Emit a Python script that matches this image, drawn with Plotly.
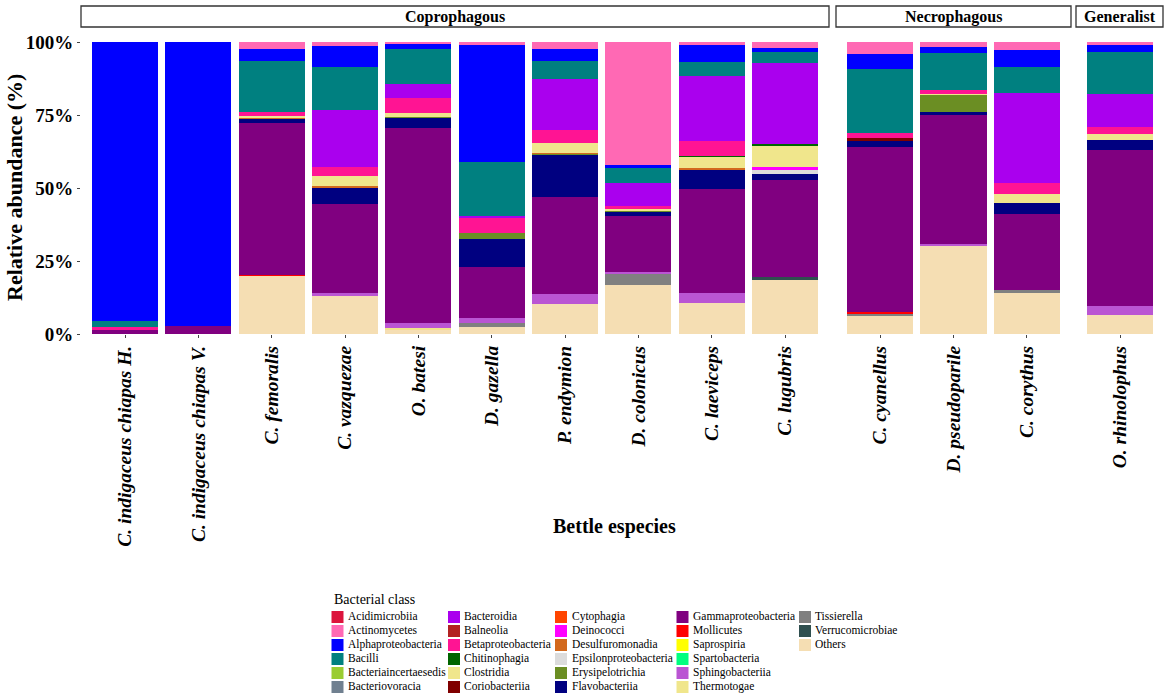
import plotly.graph_objects as go

# ---------------- data ----------------
species = ["C. indigaceus chiapas H.", "C. indigaceus chiapas V.", "C. femoralis", "C. vazquezae",
           "O. batesi", "D. gazella", "P. endymion", "D. colonicus", "C. laeviceps", "C. lugubris",
           "C. cyanellus", "D. pseudoparile", "C. corythus", "O. rhinolophus"]
feeding_group = ["Coprophagous", "Coprophagous", "Coprophagous", "Coprophagous", "Coprophagous",
                 "Coprophagous", "Coprophagous", "Coprophagous", "Coprophagous", "Coprophagous",
                 "Necrophagous", "Necrophagous", "Necrophagous", "Generalist"]
groups = ["Coprophagous", "Necrophagous", "Generalist"]

classes = ["Acidimicrobiia", "Actinomycetes", "Alphaproteobacteria", "Bacilli", "Bacteriaincertaesedis",
           "Bacteriovoracia", "Bacteroidia", "Balneolia", "Betaproteobacteria", "Chitinophagia",
           "Clostridia", "Coriobacteriia", "Cytophagia", "Deinococci", "Desulfuromonadia",
           "Epsilonproteobacteria", "Erysipelotrichia", "Flavobacteriia", "Gammaproteobacteria",
           "Mollicutes", "Saprospiria", "Spartobacteria", "Sphingobacteriia", "Thermotogae",
           "Tissierella", "Verrucomicrobiae", "Others"]
class_colors = ["#DC143C", "#FF69B4", "#0000FF", "#008080", "#9ACD32",
                "#708090", "#AA00EE", "#B22222", "#FF1493", "#006400",
                "#F0E68C", "#800000", "#FF4500", "#FF00FF", "#D2691E",
                "#DCDCDC", "#6B8E23", "#000080", "#800080",
                "#FF0000", "#FFFF00", "#00FF7F", "#BA55D3", "#F0E68C",
                "#808080", "#2F4F4F", "#F5DEB3"]

# relative abundance (%) per class, in species order
acidimicrobiia        = [0, 0, 0, 0, 0, 0, 0, 0, 0, 0, 0, 0, 0, 0]
actinomycetes         = [0, 0, 2.5, 1.4, 0.7, 1.1, 2.5, 42.1, 1.0, 2.2, 4.1, 1.6, 2.7, 1.0]
alphaproteobacteria   = [95.5, 97.3, 3.9, 7.3, 1.7, 39.9, 3.9, 1.2, 6.0, 1.1, 5.1, 2.3, 5.8, 2.3]
bacilli               = [2.0, 0, 17.4, 14.6, 12.0, 18.5, 6.2, 5.1, 4.5, 4.0, 21.9, 12.6, 8.9, 14.5]
bacteriaincertaesedis = [0, 0, 0, 0, 0, 0, 0, 0, 0, 0, 0, 0, 0, 0]
bacteriovoracia       = [0, 0, 0, 0, 0, 0, 0, 0, 0, 0, 0, 0, 0, 0]
bacteroidia           = [0, 0, 0, 19.5, 4.8, 0.9, 17.5, 7.7, 22.5, 27.6, 0, 0, 31.0, 11.3]
balneolia             = [0, 0, 0, 0, 0, 0, 0, 0, 0, 0, 0, 0, 0, 0]
betaproteobacteria    = [1.0, 0, 1.6, 3.0, 5.0, 5.1, 4.6, 1.0, 5.0, 0, 1.9, 1.2, 3.5, 2.3]
chitinophagia         = [0, 0, 0, 0, 0, 0, 0, 0, 0.3, 0.4, 0, 0, 0, 0]
clostridia            = [0, 0, 0.5, 3.5, 1.5, 0, 3.2, 0.7, 3.8, 7.4, 0, 0.3, 3.2, 2.2]
coriobacteriia        = [0, 0, 0, 0, 0, 0, 0, 0, 0, 0, 0.6, 0, 0, 0]
cytophagia            = [0, 0, 0, 0, 0, 0, 0, 0, 0, 0, 0, 0, 0, 0]
deinococci            = [0, 0, 0, 0, 0, 0, 0, 0, 0, 1.1, 0, 0, 0, 0]
desulfuromonadia      = [0, 0, 0.3, 0.8, 0, 0, 0.4, 0, 0.7, 0, 0, 0, 0, 0]
epsilonproteobacteria = [0, 0, 0, 0, 0, 0, 0, 0, 0, 1.4, 0, 0, 0, 0]
erysipelotrichia      = [0, 0, 0, 0, 0.3, 1.9, 0.4, 0.3, 0, 0, 0, 6.1, 0, 0]
flavobacteriia        = [0, 0, 1.6, 5.5, 3.4, 9.8, 14.5, 1.5, 6.7, 2.1, 2.3, 1.0, 3.7, 3.5]
gammaproteobacteria   = [1.5, 2.7, 51.9, 30.5, 67.0, 17.4, 33.0, 19.0, 35.6, 33.3, 56.7, 44.0, 26.3, 53.2]
mollicutes            = [0, 0, 0.3, 0, 0, 0, 0, 0, 0, 0, 0.5, 0, 0, 0]
saprospiria           = [0, 0, 0, 0, 0, 0, 0, 0, 0, 0, 0, 0, 0, 0]
spartobacteria        = [0, 0, 0, 0, 0, 0, 0, 0, 0, 0, 0, 0, 0, 0]
sphingobacteriia      = [0, 0, 0, 1.0, 1.5, 1.5, 3.5, 0.6, 3.2, 0, 0, 0.6, 0, 3.1]
thermotogae           = [0, 0, 0, 0, 0.5, 0, 0, 0, 0, 0, 0, 0, 0, 0]
tissierella           = [0, 0, 0, 0, 0, 1.4, 0, 4.0, 0, 0, 0.6, 0, 0.8, 0]
verrucomicrobiae      = [0, 0, 0, 0, 0, 0, 0, 0, 0, 0.9, 0, 0, 0, 0]
others                = [0, 0, 20.0, 12.9, 1.6, 2.5, 10.3, 16.8, 10.7, 18.5, 6.3, 30.3, 14.1, 6.6]

class_values = [acidimicrobiia, actinomycetes, alphaproteobacteria, bacilli, bacteriaincertaesedis,
                bacteriovoracia, bacteroidia, balneolia, betaproteobacteria, chitinophagia,
                clostridia, coriobacteriia, cytophagia, deinococci, desulfuromonadia,
                epsilonproteobacteria, erysipelotrichia, flavobacteriia, gammaproteobacteria,
                mollicutes, saprospiria, spartobacteria, sphingobacteriia, thermotogae,
                tissierella, verrucomicrobiae, others]

y_ticks = [0, 25, 50, 75, 100]
y_tick_labels = ["0%", "25%", "50%", "75%", "100%"]

# ---------------- layout helpers ----------------
W, H = 1169, 699
def px_x(v):
    return v / W
def px_y(v):
    return 1 - v / H

panel_px = [(81, 829), (836, 1071), (1076, 1164)]
plot_top, plot_bottom = 42, 334
axis_ids = ["x", "x2", "x3"]
FONT = "Liberation Serif"

fig = go.Figure()

# stacked bars: first class on top -> add in reverse
for cls, col, vals in reversed(list(zip(classes, class_colors, class_values))):
    for g, ax in zip(groups, axis_ids):
        xs = [s for s, fg in zip(species, feeding_group) if fg == g]
        ys = [v for v, fg in zip(vals, feeding_group) if fg == g]
        fig.add_trace(go.Bar(x=xs, y=ys, name=cls, xaxis=ax, yaxis="y",
                             marker=dict(color=col, line=dict(width=0)),
                             showlegend=False))

# legend drawn on a pixel-space helper axis
leg_key_x = [337.5, 454, 561, 682.5, 805]
leg_text_x = [348, 464, 572, 693, 815]
leg_row_y0, leg_row_step, leg_rows = 617, 14, 6
kx, ky, tx = [], [], []
for i in range(len(classes)):
    c, r = divmod(i, leg_rows)
    kx.append(leg_key_x[c])
    tx.append(leg_text_x[c])
    ky.append(leg_row_y0 + r * leg_row_step)
fig.add_trace(go.Scatter(x=kx, y=ky, mode="markers", xaxis="x4", yaxis="y4",
                         marker=dict(symbol="square", size=12, color=class_colors, line=dict(width=0)),
                         showlegend=False, hoverinfo="skip", cliponaxis=False))
fig.add_trace(go.Scatter(x=tx, y=ky, mode="text", text=classes, textposition="middle right",
                         textfont=dict(family=FONT, size=11.5, color="black"),
                         xaxis="x4", yaxis="y4", showlegend=False, hoverinfo="skip", cliponaxis=False))

layout = dict(
    template="none",
    width=W, height=H, autosize=False,
    margin=dict(l=0, r=0, t=0, b=0, pad=0),
    paper_bgcolor="white", plot_bgcolor="rgba(0,0,0,0)",
    barmode="stack", bargap=0.1, showlegend=False,
    font=dict(family=FONT, color="black"),
    yaxis=dict(domain=[px_y(plot_bottom), px_y(plot_top)], range=[0, 100], anchor="x",
               tickmode="array", tickvals=y_ticks, ticktext=y_tick_labels,
               ticks="outside", ticklen=3, tickcolor="#444", automargin=False,
               tickfont=dict(family=FONT, size=19, weight="bold", color="black"),
               showgrid=False, zeroline=False, showline=False),
    xaxis4=dict(domain=[0, 1], range=[0, W], anchor="y4", visible=False, automargin=False),
    yaxis4=dict(domain=[0, 1], range=[H, 0], anchor="x4", visible=False, automargin=False),
)
for (x0, x1), ax, g in zip(panel_px, axis_ids, groups):
    cats = [s for s, fg in zip(species, feeding_group) if fg == g]
    key = "xaxis" if ax == "x" else "xaxis" + ax[1:]
    layout[key] = dict(domain=[px_x(x0), min(px_x(x1), 1.0)], anchor="y", type="category",
                       categoryorder="array", categoryarray=cats, automargin=False,
                       range=[-0.6, len(cats) - 0.4], tickangle=-90,
                       ticks="outside", ticklen=3, tickcolor="#444",
                       tickfont=dict(family=FONT, size=19.5, weight="bold", style="italic", color="black"),
                       showgrid=False, zeroline=False, showline=False)
fig.update_layout(**layout)

# facet strips
for (x0, x1), g in zip(panel_px, groups):
    fig.add_shape(type="rect", xref="paper", yref="paper",
                  x0=px_x(x0), x1=px_x(min(x1, 1163)), y0=px_y(27), y1=px_y(6),
                  line=dict(color="#333333", width=1.3), fillcolor="white", layer="below")
    fig.add_annotation(x=px_x((x0 + x1) / 2), y=px_y(16.5), xref="paper", yref="paper",
                       text=g, showarrow=False, xanchor="center", yanchor="middle",
                       font=dict(family=FONT, size=16, weight="bold", color="black"))

# axis titles
fig.add_annotation(x=px_x(15), y=px_y((plot_top + plot_bottom) / 2), xref="paper", yref="paper",
                   text="Relative abundance (%)", textangle=-90, showarrow=False,
                   xanchor="center", yanchor="middle",
                   font=dict(family=FONT, size=22, weight="bold", color="black"))
fig.add_annotation(x=px_x(614.5), y=px_y(526), xref="paper", yref="paper",
                   text="Bettle especies", showarrow=False, xanchor="center", yanchor="middle",
                   font=dict(family=FONT, size=20, weight="bold", color="black"))
fig.add_annotation(x=px_x(332), y=px_y(599), xref="paper", yref="paper",
                   text="Bacterial class", showarrow=False, xanchor="left", yanchor="middle",
                   font=dict(family=FONT, size=14, color="black"))

# remove the browser's default 8px page margin so the figure fills the window
fig.write_html("out.html", config={"displayModeBar": False},
               post_script="document.body.style.margin='0px';")
